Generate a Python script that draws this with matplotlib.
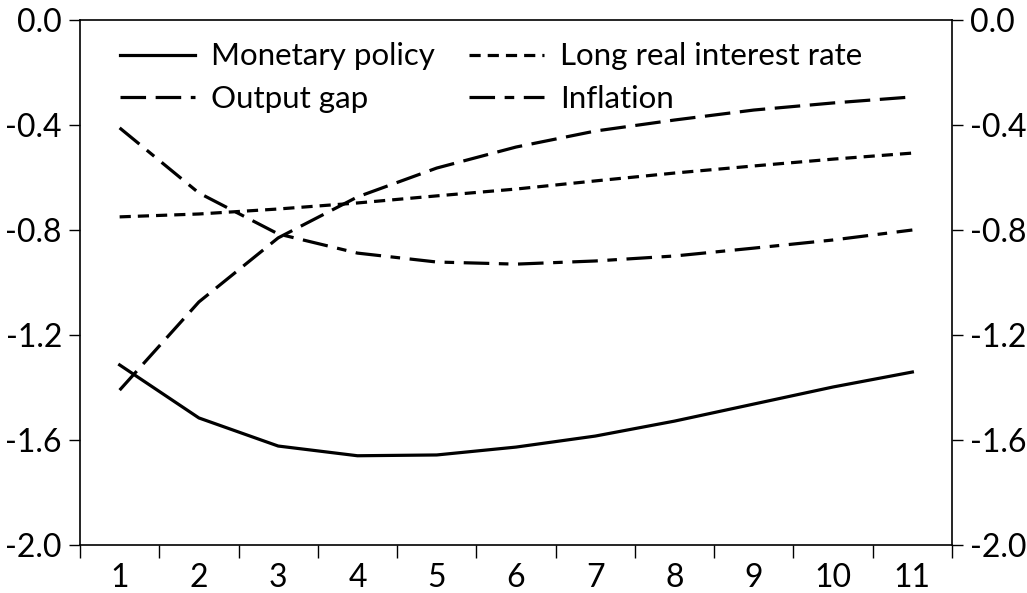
import numpy as np
import matplotlib.pyplot as plt
from matplotlib.ticker import FixedLocator, NullFormatter

plt.rcParams['font.family'] = ['Lato', 'DejaVu Sans']

# data
periode = np.arange(1, 12)
monetary = [-1.314, -1.516, -1.623, -1.660, -1.657, -1.627, -1.585, -1.528, -1.463, -1.398, -1.341]
long_real = [-0.750, -0.739, -0.720, -0.697, -0.670, -0.644, -0.613, -0.583, -0.556, -0.530, -0.507]
output_gap = [-1.410, -1.074, -0.830, -0.674, -0.564, -0.484, -0.423, -0.381, -0.343, -0.316, -0.293]
inflation = [-0.411, -0.659, -0.815, -0.888, -0.922, -0.930, -0.918, -0.899, -0.869, -0.838, -0.800]
yticks = [-2.0, -1.6, -1.2, -0.8, -0.4, 0.0]

fig = plt.figure(figsize=(10.27, 5.93), dpi=100)
ax = fig.add_axes([80 / 1027, 48 / 593, 872 / 1027, 525 / 593])

lw = 2.3
l1, = ax.plot(periode, monetary, color='black', lw=lw, label='Monetary policy')
l2, = ax.plot(periode, long_real, color='black', lw=lw, dashes=(3.5, 2.2), label='Long real interest rate')
l3, = ax.plot(periode, output_gap, color='black', lw=lw, dashes=(8, 3), label='Output gap')
l4, = ax.plot(periode, inflation, color='black', lw=lw, dashes=(8, 3, 3, 3), label='Inflation')

ax.set_xlim(0.5, 11.5)
ax.set_ylim(-2.0, 0.0)

# tick x di antara kategori, label di tengah
ax.xaxis.set_major_locator(FixedLocator(np.arange(0.5, 12, 1)))
ax.xaxis.set_major_formatter(NullFormatter())
ax.xaxis.set_minor_locator(FixedLocator(periode))
ax.set_xticklabels([str(p) for p in periode], minor=True)
ax.tick_params(axis='x', which='major', direction='out', length=9, width=1)
ax.tick_params(axis='x', which='minor', length=0, pad=13, labelsize=23)

ax.set_yticks(yticks)
ax.set_yticklabels(['%.1f' % t for t in yticks])
ax.tick_params(axis='y', direction='out', length=8, width=1, labelsize=23,
               right=True, labelright=True, pad=5)

for s in ax.spines.values():
    s.set_linewidth(1.2)

ax.legend(handles=[l1, l3, l2, l4], ncol=2, frameon=False, loc='upper left',
          bbox_to_anchor=(0.032, 0.981), borderaxespad=0, fontsize=22.5,
          handlelength=2.4, columnspacing=1.1, labelspacing=0.45, handletextpad=0.5)

fig.savefig('out.png', dpi=100)
